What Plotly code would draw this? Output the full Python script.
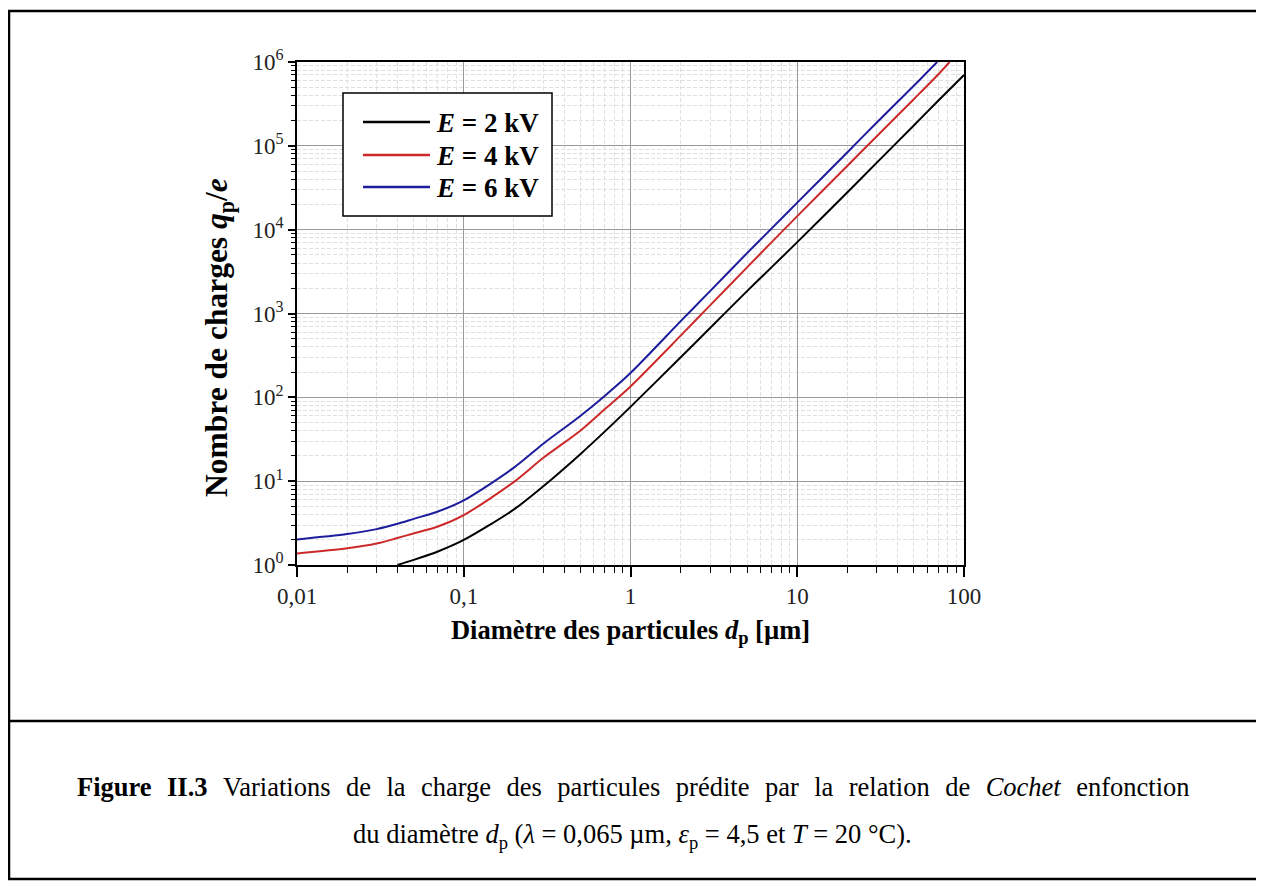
import plotly.graph_objects as go

# ---- data ----
diam_black = [0.04, 0.05, 0.07, 0.1, 0.2, 0.3, 0.5, 0.7, 1, 2, 3, 5, 7, 10, 20, 30, 50, 70, 100]
q_2kV = [1.0, 1.15, 1.45, 1.99, 4.6, 8.7, 21, 39, 77, 300, 670, 1850, 3550, 7100, 28000, 63000, 175000, 345000, 700000]

diam_red = [0.01, 0.02, 0.03, 0.04, 0.05, 0.07, 0.1, 0.2, 0.3, 0.5, 0.7, 1, 2, 3, 5, 7, 10, 20, 30, 50, 70, 82]
q_4kV = [1.37, 1.58, 1.8, 2.1, 2.38, 2.88, 3.94, 9.8, 19, 40, 72, 135, 545, 1250, 3550, 7050, 14500, 58000, 130000, 360000, 710000, 1000000]

diam_blue = [0.01, 0.02, 0.03, 0.04, 0.05, 0.07, 0.1, 0.2, 0.3, 0.5, 0.7, 1, 2, 3, 5, 7, 10, 20, 30, 50, 69]
q_6kV = [2.02, 2.34, 2.68, 3.1, 3.55, 4.35, 5.9, 14.5, 28, 60, 104, 195, 810, 1850, 5250, 10300, 21000, 84000, 190000, 520000, 1000000]

series_names = ["<b><i>E</i> = 2 kV</b>", "<b><i>E</i> = 4 kV</b>", "<b><i>E</i> = 6 kV</b>"]
series_colors = ["black", "#cc2a2a", "#1c1c9c"]

x_tickvals = [0.01, 0.1, 1, 10, 100]
x_ticktext = ["0,01", "0,1", "1", "10", "100"]
y_tickvals = [1, 10, 100, 1000, 10000, 100000, 1000000]
y_ticktext = ["10<sup>%d</sup>" % i for i in range(7)]
x_minor = [m * 10 ** e for e in (-2, -1, 0, 1) for m in range(2, 10)]
y_minor = [m * 10 ** e for e in range(0, 6) for m in range(2, 10)]

caption_1 = "<b>Figure II.3</b> Variations de la charge des particules prédite par la relation de <i>Cochet</i> enfonction"
caption_2 = "du diamètre <i>d</i><sub>p</sub> (<i>λ</i> = 0,065 µm, <i>ε</i><sub>p</sub> = 4,5 et <i>T</i> = 20 °C)."

OFF = 8  # browser body margin
W, H = 1264 - OFF, 882 - OFF
L, R, T, B = 297 - OFF, 964 - OFF, 62 - OFF, 565 - OFF  # plot area in figure pixels

def px(x):
    # screen pixel -> paper coordinate
    return (x - OFF - L) / (R - L)

def py(y):
    return (B - (y - OFF)) / (B - T)

FONT = "Liberation Serif"

fig = go.Figure()
for xs, ys, nm, col in zip([diam_black, diam_red, diam_blue], [q_2kV, q_4kV, q_6kV],
                           series_names, series_colors):
    fig.add_trace(go.Scatter(x=xs, y=ys, mode="lines", name=nm, showlegend=False,
                             line=dict(color=col, width=2, shape="spline", smoothing=0.8)))

fig.update_xaxes(
    type="log", range=[-2, 2], tickmode="array", tickvals=x_tickvals, ticktext=x_ticktext,
    ticks="outside", ticklen=10, tickwidth=1.5, tickcolor="black",
    showline=True, linecolor="black", linewidth=1.5, mirror=True,
    showgrid=True, gridcolor="#9a9a9a", gridwidth=1,
    minor=dict(tickmode="array", tickvals=x_minor, ticks="outside", ticklen=6, tickwidth=1.2,
               tickcolor="black", showgrid=True, gridcolor="#e0e0e0", griddash="4px,2px", gridwidth=1),
    tickfont=dict(family=FONT, size=23, color="#222"),
    title=dict(text="<b>Diamètre des particules <i>d</i><sub>p</sub> [µm]</b>",
               font=dict(family=FONT, size=26.5, color="black"), standoff=12),
    zeroline=False,
)
fig.update_yaxes(
    type="log", range=[0, 6], tickmode="array", tickvals=y_tickvals, ticktext=y_ticktext,
    ticks="outside", ticklen=7, tickwidth=1.5, tickcolor="black",
    showline=True, linecolor="black", linewidth=1.5, mirror=True,
    showgrid=True, gridcolor="#9a9a9a", gridwidth=1,
    minor=dict(tickmode="array", tickvals=y_minor, ticks="outside", ticklen=4, tickwidth=1.2,
               tickcolor="black", showgrid=True, gridcolor="#e0e0e0", griddash="4px,2px", gridwidth=1),
    tickfont=dict(family=FONT, size=23, color="#222"),
    zeroline=False,
)

# frame of the figure + caption divider
shapes = [
    dict(type="rect", xref="paper", yref="paper", x0=px(9), x1=px(1259), y0=py(879), y1=py(11),
         line=dict(color="black", width=2.5), fillcolor="rgba(0,0,0,0)", layer="below"),
    dict(type="line", xref="paper", yref="paper", x0=px(9), x1=px(1259), y0=py(721), y1=py(721),
         line=dict(color="black", width=2.5)),
    # legend box
    dict(type="rect", xref="paper", yref="paper", x0=px(343), x1=px(552), y0=py(216), y1=py(93),
         line=dict(color="black", width=1.5), fillcolor="white", layer="above"),
]
annotations = []
legend_rows = [122, 155, 187]
for row, nm, col in zip(legend_rows, series_names, series_colors):
    shapes.append(dict(type="line", xref="paper", yref="paper", x0=px(363), x1=px(430),
                       y0=py(row), y1=py(row), line=dict(color=col, width=2.5), layer="above"))
    annotations.append(dict(xref="paper", yref="paper", x=px(434), y=py(row + 1), xanchor="left",
                            yanchor="middle", showarrow=False, text=nm,
                            font=dict(family=FONT, size=27, color="black")))

# y-axis title
annotations.append(dict(xref="paper", yref="paper", x=px(219), y=py(338), xanchor="center",
                        yanchor="middle", showarrow=False, textangle=-90,
                        text="<b>Nombre de charges <i>q</i><sub>p</sub>/<i>e</i></b>",
                        font=dict(family=FONT, size=31.5, color="black")))

# caption (first line justified: widened word spaces)
annotations += [
    dict(xref="paper", yref="paper", x=px(633), y=py(787), xanchor="center", yanchor="middle",
         showarrow=False, font=dict(family=FONT, size=26.5, color="black"),
         text=caption_1.replace(" ", " \u2004")),
    dict(xref="paper", yref="paper", x=px(632), y=py(836), xanchor="center", yanchor="middle",
         showarrow=False, font=dict(family=FONT, size=26.5, color="black"),
         text=caption_2),
]

fig.update_layout(
    width=W, height=H, autosize=False,
    margin=dict(l=L, r=W - R, t=T, b=H - B),
    paper_bgcolor="white", plot_bgcolor="white",
    shapes=shapes, annotations=annotations,
    showlegend=False,
)

fig.write_html("out.html")
